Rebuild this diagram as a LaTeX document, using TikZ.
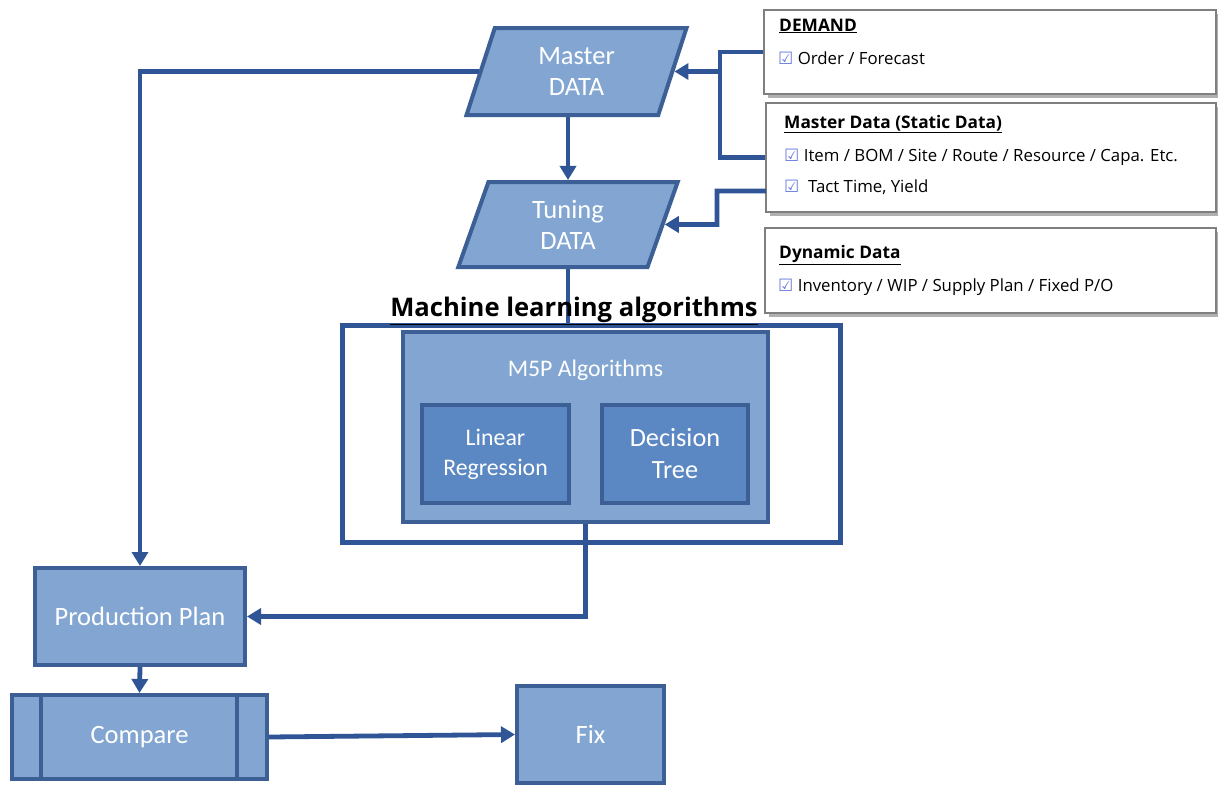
\documentclass[tikz,border=0pt]{standalone}
\usepackage{fontspec}
\setmainfont{Carlito}
\newfontfamily\kfont{Open Sans}
\newfontfamily\symfont{DejaVu Sans}
\usetikzlibrary{shapes.geometric,arrows.meta,calc}
\definecolor{fillL}{HTML}{82A6D1}
\definecolor{fillM}{HTML}{5B88C2}
\definecolor{bordC}{HTML}{3C5F96}
\definecolor{lineC}{HTML}{2F5597}
\definecolor{boxG}{HTML}{7F7F7F}
\definecolor{shadG}{HTML}{B0B0B0}
\definecolor{chkC}{HTML}{6A7CE0}
\newcommand{\chk}{{\symfont\color{chkC}\fontsize{17}{17}\selectfont ☑}}
\tikzset{
  x=1pt, y=-1pt,
  para/.style={trapezium, trapezium left angle=74.6, trapezium right angle=105.4,
    trapezium stretches=true, draw=bordC, line width=4pt, fill=fillL, inner sep=0pt,
    text=white, font=\fontsize{26.5}{31}\selectfont, align=center},
  pbox/.style={rectangle, draw=bordC, line width=4pt, fill=fillL, inner sep=0pt,
    text=white, font=\fontsize{26.5}{31}\selectfont, align=center},
  mbox/.style={rectangle, draw=bordC, line width=4pt, fill=fillM, inner sep=0pt,
    text=white, font=\fontsize{23.8}{30}\selectfont, align=center},
  infobox/.style={rectangle, draw=boxG, line width=1.5pt, fill=white, inner sep=0pt},
  shad/.style={fill=shadG, draw=none},
  conn/.style={draw=lineC, line width=4.8pt},
  arr/.style={conn, -{Triangle[length=14pt,width=16pt]}},
  itxt/.style={anchor=west, inner sep=0pt, font=\kfont\fontsize{16.8}{18}\selectfont},
  htxt/.style={anchor=west, inner sep=0pt, font=\kfont\bfseries\fontsize{17.3}{19}\selectfont},
}
\begin{document}
\begin{tikzpicture}
\useasboundingbox (0,0) rectangle (1218,785);
\fill[white] (0,0) rectangle (1218,785);

% info boxes (shadows first)
\fill[shad] (768,14) rectangle (1220,98);
\fill[shad] (770,107) rectangle (1220,216);
\fill[shad] (769,232) rectangle (1220,317);
\node[infobox, minimum width=452pt, minimum height=84pt] (demand) at (990,52) {};
\node[infobox, minimum width=450pt, minimum height=109pt] (static) at (991,157.5) {};
\node[infobox, minimum width=451pt, minimum height=85pt] (dynamic) at (990.5,270.5) {};

\node[htxt] (dh) at (779,26) {\underline{DEMAND}};
\node[itxt] (d1) at (778,58) {\chk\ Order / Forecast};
\node[htxt] (sh) at (784,124) {\underline{Master Data (Static Data)}};
\node[itxt] (s1) at (784,157) {\chk\ Item / BOM / Site / Route / Resource / Capa. Etc.};
\node[itxt] (s2) at (784,187) {\chk\ \ Tact Time, Yield};
\node[htxt] (yh) at (779,255) {\underline{Dynamic Data}};
\node[itxt] (y1) at (778,287) {\chk\ Inventory / WIP / Supply Plan / Fixed P/O};

% main flow
\node[para, minimum width=220pt, minimum height=87pt] (md) at (576.5,71.5) {Master\\DATA};
\node[para, minimum width=220pt, minimum height=85pt] (td) at (568,224.5) {Tuning\\DATA};

\node[rectangle, draw=lineC, line width=5pt, fill=white, minimum width=498pt, minimum height=217pt] (ml) at (591,433.5) {};
\node[pbox, minimum width=365pt, minimum height=190pt] (m5p) at (585.5,427) {};
\node[text=white, font=\fontsize{23.8}{28}\selectfont, inner sep=0pt] (m5pt) at (585.5,370) {M5P Algorithms};
\node[mbox, minimum width=147pt, minimum height=98pt] (lr) at (495.5,454) {Linear\\Regression};
\node[mbox, font=\fontsize{26.3}{32}\selectfont, minimum width=146pt, minimum height=98pt] (dt) at (675,454) {Decision\\Tree};

\node[pbox, minimum width=210pt, minimum height=97pt] (pp) at (140,616.5) {Production Plan};
\node[pbox, minimum width=255pt, minimum height=84pt] (cmp) at (139.5,737) {Compare};
\draw[draw=bordC, line width=4pt] ([xshift=31pt]cmp.north west) -- ([xshift=31pt]cmp.south west);
\draw[draw=bordC, line width=4pt] ([xshift=-32pt]cmp.north east) -- ([xshift=-32pt]cmp.south east);
\node[pbox, minimum width=147pt, minimum height=97pt] (fix) at (590.5,734.5) {Fix};

% connectors
\coordinate (jn) at (720,71.5);
\draw[conn] (demand.west) -| (jn) |- (static.west);
\draw[arr] (jn) -- (md.east);
\coordinate (t1) at (766,191);
\draw[arr] (t1) -| (717,224.5) -- (td.east);
\draw[arr] (md.south -| td.north) -- (td.north);
\draw[conn] (td.south) -- (td.south |- ml.north);
\draw[arr] (md.west) -| (pp.north);
\draw[arr] (m5p.south) |- (pp.east);
\draw[arr] (pp.south) -- (cmp.north);
\draw[arr] (cmp.east) -- (fix.west);

% title
\node[inner sep=0pt, font=\kfont\bfseries\fontsize{25.6}{28}\selectfont] (title) at (574,311) {\underline{Machine learning algorithms}};
\end{tikzpicture}
\end{document}
